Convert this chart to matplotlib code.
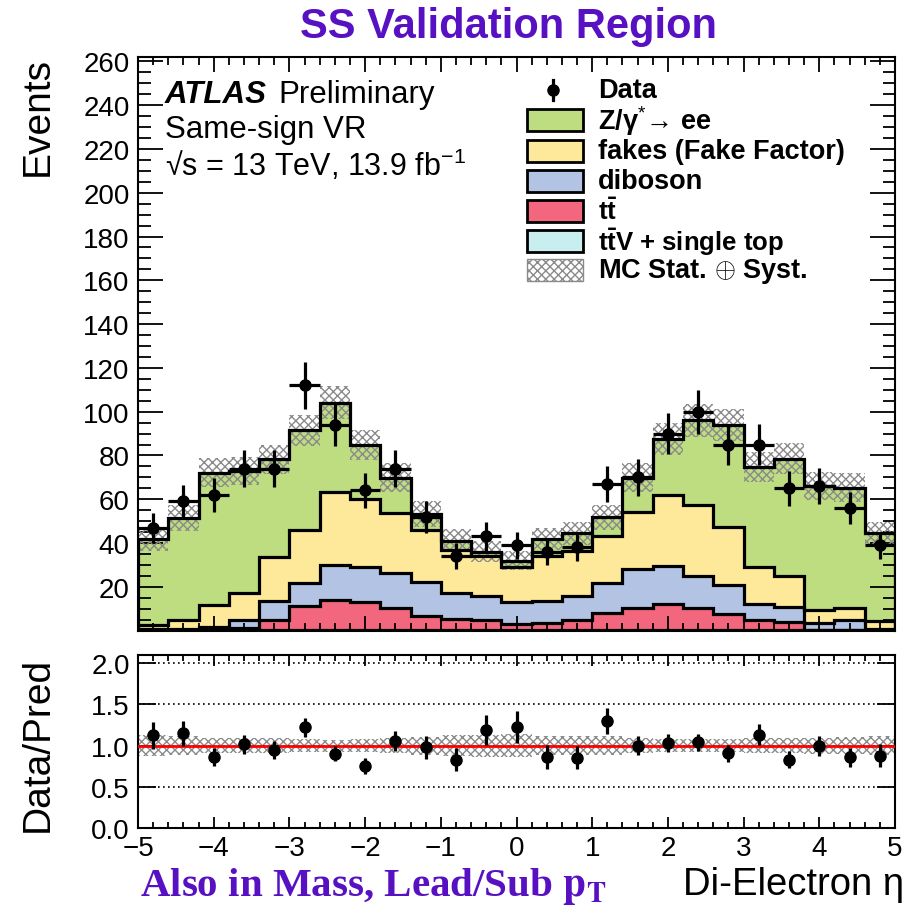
import numpy as np
import matplotlib
matplotlib.use("Agg")
import matplotlib.pyplot as plt
from matplotlib.patches import Rectangle
from matplotlib.lines import Line2D
from matplotlib.ticker import MultipleLocator, FuncFormatter
from matplotlib import font_manager

# binning in di-electron eta
eta_lo, eta_hi, n_bins = -5.0, 5.0, 25

# observed events per bin
data = [47, 59, 62, 74, 74, 112, 94, 64, 74, 52, 34, 43, 39,
        36, 38, 67, 70, 90, 100, 85, 85, 65, 66, 56, 39]

# background predictions per bin
ttv = [0.1, 0.1, 0.2, 0.2, 0.3, 0.4, 0.4, 0.4, 0.4, 0.5, 0.5, 0.4, 0.3,
       0.3, 0.4, 0.5, 0.5, 0.4, 0.4, 0.4, 0.3, 0.3, 0.2, 0.2, 0.1]
ttbar = [0.2, 0.2, 0.3, 0.8, 4.5, 11.0, 13.7, 12.8, 9.9, 6.0, 4.8, 4.4, 2.9,
         3.0, 4.4, 7.4, 9.7, 11.7, 9.8, 7.2, 4.5, 3.5, 0.2, 0.2, 0.2]
diboson = [0.5, 0.5, 1.3, 3.8, 8.8, 10.3, 16.0, 15.9, 16.0, 15.5, 11.7, 11.1, 9.8,
           10.3, 10.8, 13.8, 17.9, 17.2, 14.8, 13.2, 7.3, 6.8, 3.1, 4.4, 0.3]
fakes = [1.7, 4.0, 10.0, 12.2, 20.1, 24.2, 33.0, 31.2, 27.6, 24.0, 19.8, 18.3, 15.9,
         20.6, 20.8, 21.6, 26.3, 32.5, 32.4, 26.3, 16.8, 14.2, 5.9, 5.4, 3.9]
zee = [39.3, 46.5, 60.4, 55.8, 44.5, 45.6, 41.0, 24.5, 16.0, 7.2, 4.2, 1.8, 3.0,
       7.6, 8.1, 8.4, 15.5, 25.6, 38.6, 46.8, 46.0, 53.8, 56.7, 55.1, 40.0]

# total MC stat + syst uncertainty per bin
unc = [5.5, 6.0, 6.5, 6.5, 6.8, 7.2, 7.6, 7.0, 6.5, 5.8, 5.2, 4.8, 4.4,
       5.0, 5.2, 5.8, 6.5, 7.3, 7.4, 7.4, 6.8, 7.0, 6.5, 6.5, 5.2]

labels = ["Z/γ$^{*}$→ ee", "fakes (Fake Factor)", "diboson",
          r"$\mathbf{t\bar{t}}$", r"$\mathbf{t\bar{t}}$V + single top"]
label_sizes = [19.5, 19.5, 19.5, 18.5, 18.5]
colors = ["#bedc80", "#fee89a", "#b3c3e3", "#f2667e", "#c9eef0"]

installed = {f.name for f in font_manager.fontManager.ttflist}
narrow = "Liberation Sans Narrow" if "Liberation Sans Narrow" in installed else "Liberation Sans"

plt.rcParams["font.family"] = ["Liberation Sans", "DejaVu Sans"]
plt.rcParams["mathtext.fontset"] = "custom"
plt.rcParams["mathtext.rm"] = "Liberation Sans"
plt.rcParams["mathtext.it"] = "Liberation Sans:italic"
plt.rcParams["mathtext.bf"] = "Liberation Sans:bold"
plt.rcParams["hatch.linewidth"] = 1.0
plt.rcParams["axes.linewidth"] = 1.5

W, H = 919, 912
fig = plt.figure(figsize=(W / 100, H / 100), dpi=100)


def add_axes_px(left, top, right, bottom):
    return fig.add_axes([left / W, 1 - bottom / H, (right - left) / W, (bottom - top) / H])


ax = add_axes_px(138, 58, 895, 631.6)
rax = add_axes_px(138, 656, 895, 829)

edges = np.linspace(eta_lo, eta_hi, n_bins + 1)
centers = 0.5 * (edges[:-1] + edges[1:])
half_width = 0.5 * (edges[1] - edges[0])

stack = np.cumsum([ttv, ttbar, diboson, fakes, zee], axis=0)
total = stack[-1]
data = np.array(data, dtype=float)
unc = np.array(unc)
hatch_col = "#8a8a8a"
hatch = "xxxx"

# stacked backgrounds, largest cumulative first
for top, col in zip(stack[::-1], colors):
    ax.stairs(top, edges, baseline=0, fill=True, facecolor=col, edgecolor="none", zorder=1)
ax.stairs(total + unc, edges, baseline=total - unc, fill=True, facecolor="none",
          edgecolor=hatch_col, hatch=hatch, linewidth=0, zorder=2)
for top in stack:
    ax.stairs(top, edges, baseline=0, color="black", linewidth=2.3, zorder=3)

ax.errorbar(centers, data, yerr=np.sqrt(data), xerr=half_width, fmt="o", color="black",
            markersize=8, elinewidth=2.3, capsize=0, zorder=5)

# ratio panel
ratio = data / total
ratio_err = np.sqrt(data) / total
rel = unc / total
rax.stairs(1 + rel, edges, baseline=1 - rel, fill=True, facecolor="none",
           edgecolor=hatch_col, hatch=hatch, linewidth=0, zorder=1)
for y in [0.5, 1.0, 1.5, 2.0]:
    rax.axhline(y, color="black", linestyle=(0, (1, 2)), linewidth=1.2, zorder=2)
rax.axhline(1.0, color="#ff0000", linewidth=2.0, zorder=3)
rax.errorbar(centers, ratio, yerr=ratio_err, fmt="o", color="black",
             markersize=8, elinewidth=2.3, capsize=0, zorder=5)

# axes styling
for a in (ax, rax):
    a.set_xlim(eta_lo, eta_hi)
    a.xaxis.set_major_locator(MultipleLocator(1))
    a.xaxis.set_minor_locator(MultipleLocator(0.2))
    a.tick_params(which="both", direction="in", top=True, right=True, width=1.3,
                  labelsize=20)

ax.set_ylim(0, 262)
ax.yaxis.set_major_locator(MultipleLocator(20))
ax.yaxis.set_minor_locator(MultipleLocator(5))
ax.yaxis.set_major_formatter(FuncFormatter(lambda v, p: "" if v == 0 else f"{v:.0f}"))
ax.tick_params(axis="y", which="major", length=18, pad=6)
ax.tick_params(axis="y", which="minor", length=9)
ax.tick_params(axis="x", which="major", length=11)
ax.tick_params(axis="x", which="minor", length=6)
ax.tick_params(labelbottom=False)

rax.set_ylim(0, 2.1)
rax.set_yticks([0, 0.5, 1.0, 1.5, 2.0])
rax.yaxis.set_major_formatter(FuncFormatter(lambda v, p: f"{v:.1f}"))
rax.tick_params(axis="y", which="major", length=13, pad=6)
rax.tick_params(axis="y", which="minor", length=0)
rax.tick_params(axis="x", which="major", length=8, pad=5)
rax.tick_params(axis="x", which="minor", length=4)

fig.text(38 / W, 1 - 57 / H, "Events", rotation=90, ha="center", va="top", fontsize=28)
fig.text(38 / W, 1 - 832 / H, "Data/Pred", rotation=90, ha="center", va="bottom", fontsize=28)
fig.text(904 / W, 1 - 885 / H, "Di-Electron η", ha="right", va="center", fontsize=27.5)

fig.text(508 / W, 1 - 27 / H, "SS Validation Region", ha="center", va="center",
         fontsize=30, fontweight="bold", color="#5811c2", family=narrow)
fig.text(140 / W, 1 - 887 / H, r"Also in Mass, Lead/Sub $\mathbf{p_T}$", ha="left",
         va="center", fontsize=29.5, fontweight="bold", color="#5811c2",
         family="Liberation Serif", math_fontfamily="stix")

# ATLAS label block
fig.text(165 / W, 1 - 95 / H, "ATLAS", ha="left", va="center", fontsize=22.5,
         fontweight="bold", fontstyle="italic")
fig.text(278 / W, 1 - 95 / H, "Preliminary", ha="left", va="center", fontsize=22.5)
fig.text(165 / W, 1 - 130 / H, "Same-sign VR", ha="left", va="center", fontsize=22.5)
fig.text(165 / W, 1 - 165 / H, r"√s = 13 TeV, 13.9 fb$^{-1}$", ha="left",
         va="center", fontsize=22)

# legend
leg_x0, leg_x1, leg_txt = 527, 583, 598
row_y = [91, 121, 152, 182, 212, 242, 271]
box_h = 22
fig.add_artist(Line2D([553 / W] * 2, [1 - 81 / H, 1 - 101 / H], color="black", lw=2.3))
fig.add_artist(Line2D([553 / W], [1 - 91 / H], marker="o", color="black", markersize=8))
fig.text(leg_txt / W, 1 - row_y[0] / H, "Data", ha="left", va="center", fontsize=19.5,
         fontweight="bold")
for y, lab, col, fs in zip(row_y[1:6], labels, colors, label_sizes):
    fig.add_artist(Rectangle((leg_x0 / W, 1 - (y + box_h / 2) / H), (leg_x1 - leg_x0) / W,
                             box_h / H, facecolor=col, edgecolor="black", linewidth=2.0))
    fig.text(leg_txt / W, 1 - y / H, lab, ha="left", va="center", fontsize=fs,
             fontweight="bold")
y = row_y[6]
fig.add_artist(Rectangle((leg_x0 / W, 1 - (y + box_h / 2) / H), (leg_x1 - leg_x0) / W,
                         box_h / H, facecolor="white", edgecolor=hatch_col, linewidth=1.0,
                         hatch=hatch))
fig.text(leg_txt / W, 1 - y / H, r"MC Stat. $\oplus$ Syst.", ha="left", va="center",
         fontsize=19.5, fontweight="bold")

fig.savefig("out.png", dpi=100)
